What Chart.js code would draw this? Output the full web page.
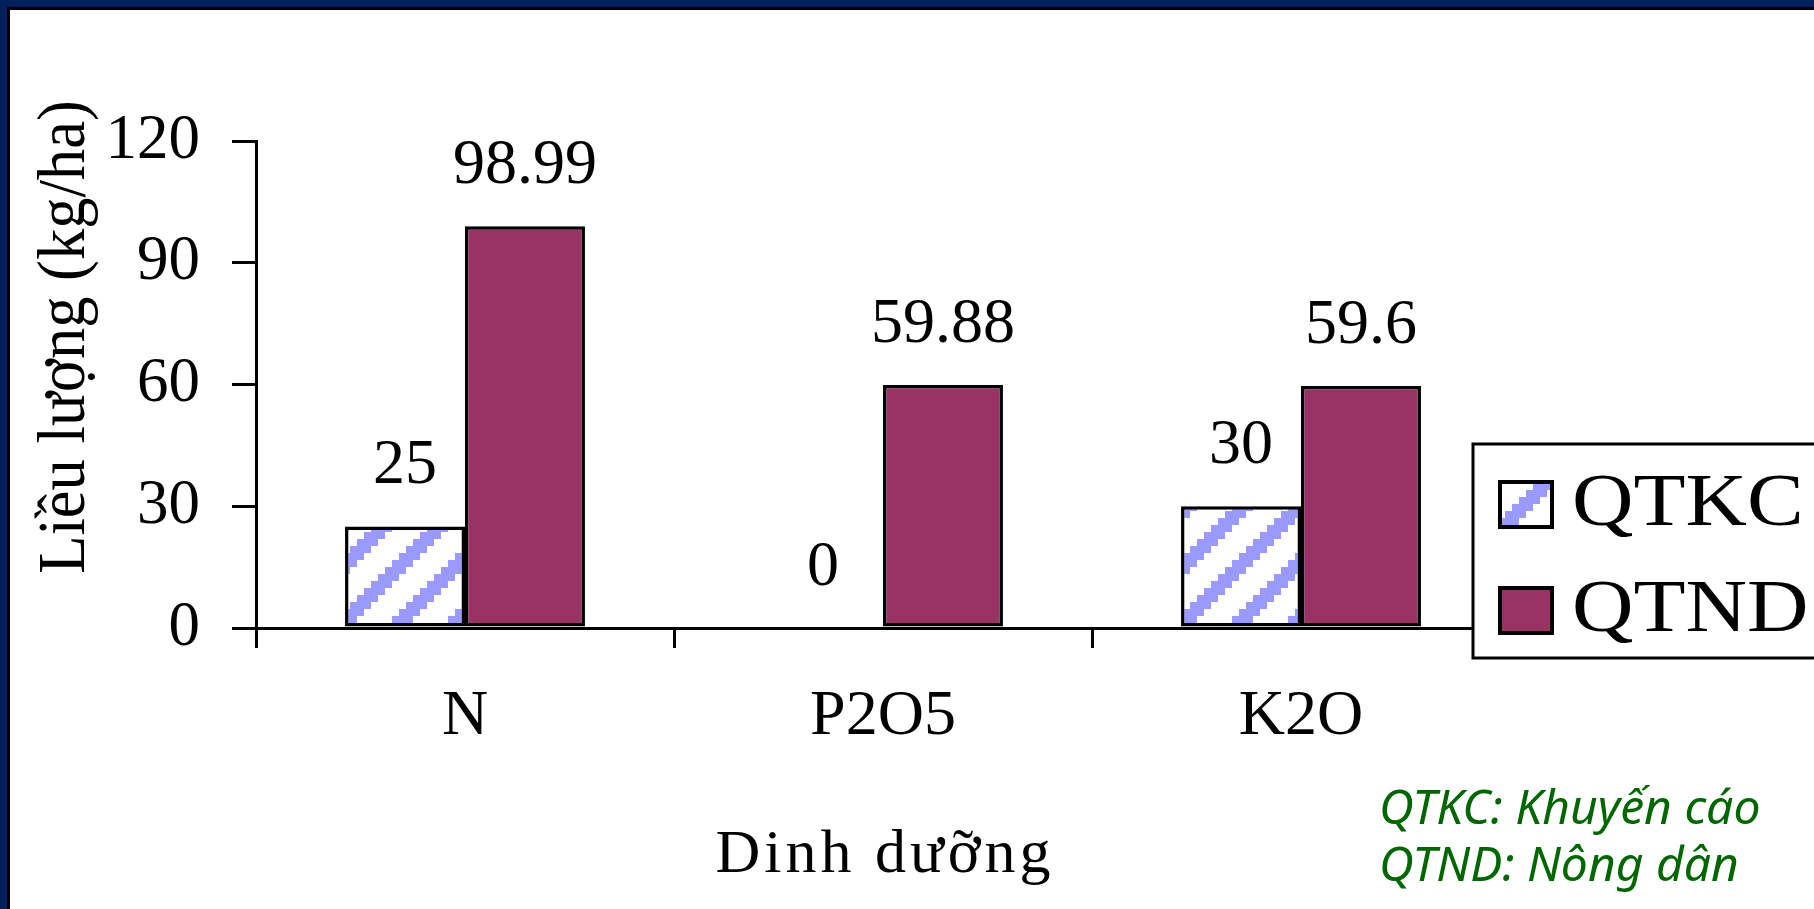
<!DOCTYPE html>
<html>
<head>
<meta charset="utf-8">
<script src="https://cdn.jsdelivr.net/npm/chart.js@4.4.1/dist/chart.umd.min.js"></script>
<style>
  html, body { margin: 0; padding: 0; background: #fff; }
  #wrap { position: relative; width: 1814px; height: 909px; overflow: hidden; background: #fff; }
  #chart { position: absolute; left: 0; top: 0; }
  .frame { position: absolute; }
  #navyTop { left: 0; top: 0; width: 1814px; height: 7px; background: #002060; }
  #navyLeft { left: 0; top: 0; width: 7px; height: 909px; background: #002060; }
  #blackTop { left: 7px; top: 7px; width: 1807px; height: 3px; background: #000; }
  #blackLeft { left: 7px; top: 7px; width: 3px; height: 902px; background: #000; }
  .note { position: absolute; left: 1379px; font: italic 48px 'Noto Sans', sans-serif; color: #006600; line-height: 48px; white-space: nowrap; }
</style>
</head>
<body>
<div id="wrap">
  <canvas id="chart" width="1814" height="909"></canvas>
  <div class="frame" id="navyTop"></div>
  <div class="frame" id="navyLeft"></div>
  <div class="frame" id="blackTop"></div>
  <div class="frame" id="blackLeft"></div>
  <div class="note" style="top:782px">QTKC: Khuyến cáo</div>
  <div class="note" style="top:839px">QTND: Nông dân</div>
</div>
<script>
const categories = ['N', 'P2O5', 'K2O'];
const qtkcValues = [25, 0, 30];
const qtndValues = [98.99, 59.88, 59.6];
const seriesNames = ['QTKC', 'QTND'];
const yTickValues = [0, 30, 60, 90, 120];
const xTitle = 'Dinh dưỡng';
const yTitle = 'Liều lượng (kg/ha)';

const serif = "'Liberation Serif', 'Times New Roman', serif";
const ctx = document.getElementById('chart').getContext('2d');

// excel-style "wide upward diagonal" fill
function makeStripes() {
  const cell = 7, n = 8;
  const c = document.createElement('canvas');
  c.width = c.height = cell * n;
  const g = c.getContext('2d');
  g.fillStyle = '#fff';
  g.fillRect(0, 0, c.width, c.height);
  g.fillStyle = '#9999ff';
  for (let i = 0; i < n; i++) {
    for (let j = 0; j < n; j++) {
      if ((i + j) % n < 3) g.fillRect(i * cell, j * cell, cell, cell);
    }
  }
  return ctx.createPattern(c, 'repeat');
}

const stripes = makeStripes();

const decor = {
  id: 'decor',
  afterDatasetsDraw(chart) {
    const c = chart.ctx;
    const area = chart.chartArea;
    c.save();
    c.fillStyle = '#000';
    c.textAlign = 'center';
    c.textBaseline = 'middle';
    c.font = '64px ' + serif;
    chart.data.datasets.forEach((ds, i) => {
      chart.getDatasetMeta(i).data.forEach((bar, j) => {
        c.fillText(String(ds.data[j]), bar.x, bar.y - 60);
      });
    });

    // x axis title (Excel spaces these letters a bit wider)
    c.save();
    c.font = '62px ' + serif;
    c.letterSpacing = '4px';
    c.fillText(xTitle, (area.left + area.right) / 2 + 2, 856);
    c.restore();

    // y axis title, sits higher than the axis centre
    c.translate(66, 337);
    c.rotate(-Math.PI / 2);
    c.scale(0.92, 1);
    c.font = '68px ' + serif;
    c.fillText(yTitle, 0, 0);
    c.restore();
  },
  afterDraw(chart) {
    const c = chart.ctx;
    c.save();
    const lx = 1473, ly = 444, lw = 420, lh = 214;
    c.fillStyle = '#fff';
    c.fillRect(lx, ly, lw, lh);
    c.lineWidth = 3;
    c.strokeStyle = '#000';
    c.strokeRect(lx, ly, lw, lh);
    const rows = [504, 610];
    chart.data.datasets.forEach((ds, i) => {
      const cy = rows[i];
      c.fillStyle = ds.backgroundColor;
      c.fillRect(1500, cy - 22, 52, 45);
      c.lineWidth = 4;
      c.strokeRect(1500, cy - 22, 52, 45);
      c.save();
      c.translate(1572, cy + 2);
      c.scale(1.15, 1);
      c.fillStyle = '#000';
      c.font = '74px ' + serif;
      c.textAlign = 'left';
      c.textBaseline = 'middle';
      c.fillText(ds.label, 0, 0);
      c.restore();
    });
    c.restore();
  }
};

new Chart(ctx, {
  type: 'bar',
  data: {
    labels: categories,
    datasets: [{
      label: seriesNames[0],
      data: qtkcValues,
      backgroundColor: stripes,
      borderColor: '#000',
      borderWidth: 3.5,
      borderSkipped: false
    }, {
      label: seriesNames[1],
      data: qtndValues,
      backgroundColor: '#993366',
      borderColor: '#000',
      borderWidth: 3.5,
      borderSkipped: false
    }]
  },
  options: {
    responsive: false,
    animation: false,
    layout: { padding: { left: 0, right: 304, top: 141, bottom: 0 } },
    datasets: { bar: { categoryPercentage: 0.574, barPercentage: 1 } },
    plugins: {
      legend: { display: false },
      tooltip: { enabled: false }
    },
    scales: {
      x: {
        offset: true,
        afterFit: s => { s.height = 281; },
        grid: { offset: true, drawOnChartArea: false, drawTicks: true, tickLength: 20, color: '#000', lineWidth: 3 },
        border: { display: true, color: '#000', width: 3 },
        ticks: { color: '#000', padding: 31, font: { family: serif, size: 64 } }
      },
      y: {
        min: 0,
        max: 120,
        afterFit: s => { s.width = 256; },
        afterBuildTicks: s => { s.ticks = yTickValues.map(v => ({ value: v })); },
        grid: { drawOnChartArea: false, drawTicks: true, tickLength: 24, color: '#000', lineWidth: 3 },
        border: { display: true, color: '#000', width: 3 },
        ticks: { color: '#000', padding: 32, font: { family: serif, size: 63 } }
      }
    }
  },
  plugins: [decor]
});
</script>
</body>
</html>
